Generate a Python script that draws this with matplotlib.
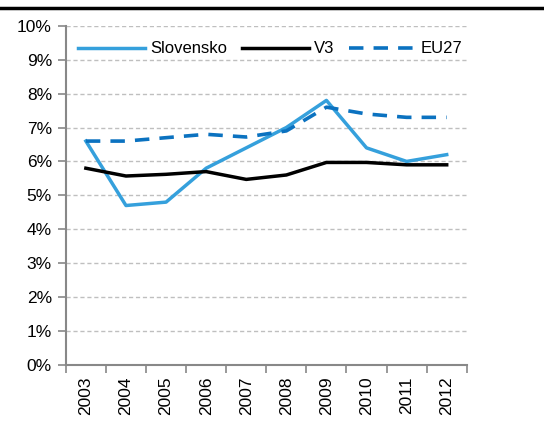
import matplotlib
matplotlib.use("Agg")
import matplotlib.pyplot as plt
from matplotlib.lines import Line2D
from matplotlib.ticker import FixedLocator, PercentFormatter

# ── Data ──────────────────────────────────────────────────────────────────────
years     = ["2003", "2004", "2005", "2006", "2007", "2008", "2009", "2010", "2011", "2012"]
slovensko = [6.6, 4.7, 4.8, 5.8, 6.4, 7.0, 7.8, 6.4, 6.0, 6.2]
v3        = [5.8, 5.57, 5.62, 5.7, 5.47, 5.6, 5.97, 5.97, 5.9, 5.9]
eu27      = [6.6, 6.6, 6.7, 6.8, 6.72, 6.9, 7.6, 7.4, 7.3, 7.3]

plt.rcParams["font.family"] = ["Liberation Sans", "DejaVu Sans"]

fig = plt.figure(figsize=(5.44, 4.37), dpi=100)
ax = fig.add_axes([0.121, 0.165, 0.737, 0.776])

x = list(range(len(years)))
ax.plot(x, slovensko, color="#35A0DC", lw=2.5, label="Slovensko", zorder=3)
ax.plot(x, v3, color="black", lw=2.5, label="V3", zorder=3)
ax.plot(x, eu27, color="#0B72C0", lw=2.6, ls=(0, (4, 2.8)), label="EU27", zorder=3)

ax.set_xlim(-0.5, len(years) - 0.5)
ax.set_ylim(0, 10)
ax.set_yticks(range(0, 11))
ax.yaxis.set_major_formatter(PercentFormatter(decimals=0))

# category ticks at boundaries, labels at centres
ax.xaxis.set_major_locator(FixedLocator([i - 0.5 for i in range(len(years) + 1)]))
ax.xaxis.set_minor_locator(FixedLocator(x))
ax.set_xticklabels([])
ax.set_xticklabels(years, minor=True, rotation=90)
ax.tick_params(axis="x", which="major", length=6, width=1.2, color="#888888", direction="out")
ax.tick_params(axis="x", which="minor", length=0, labelsize=12.5, pad=8)
ax.tick_params(axis="y", length=6, width=1.2, color="#888888", labelsize=12.5, pad=4)

ax.grid(axis="y", color="#BFBFBF", ls=(0, (3, 2)), lw=1.0, zorder=0)
for s in ["top", "right"]:
    ax.spines[s].set_visible(False)
for s in ["left", "bottom"]:
    ax.spines[s].set_color("#888888")
    ax.spines[s].set_linewidth(1.5)

ax.legend(loc="center", bbox_to_anchor=(0.51, 0.932), ncol=3, frameon=False,
          fontsize=12, handlelength=4.0, handletextpad=0.3, columnspacing=0.9,
          borderpad=0, borderaxespad=0)

# thick rule at top of figure
fig.add_artist(Line2D([0, 1], [0.982, 0.982], color="black", lw=2.5,
                      transform=fig.transFigure))

plt.savefig("out.png", dpi=100)
